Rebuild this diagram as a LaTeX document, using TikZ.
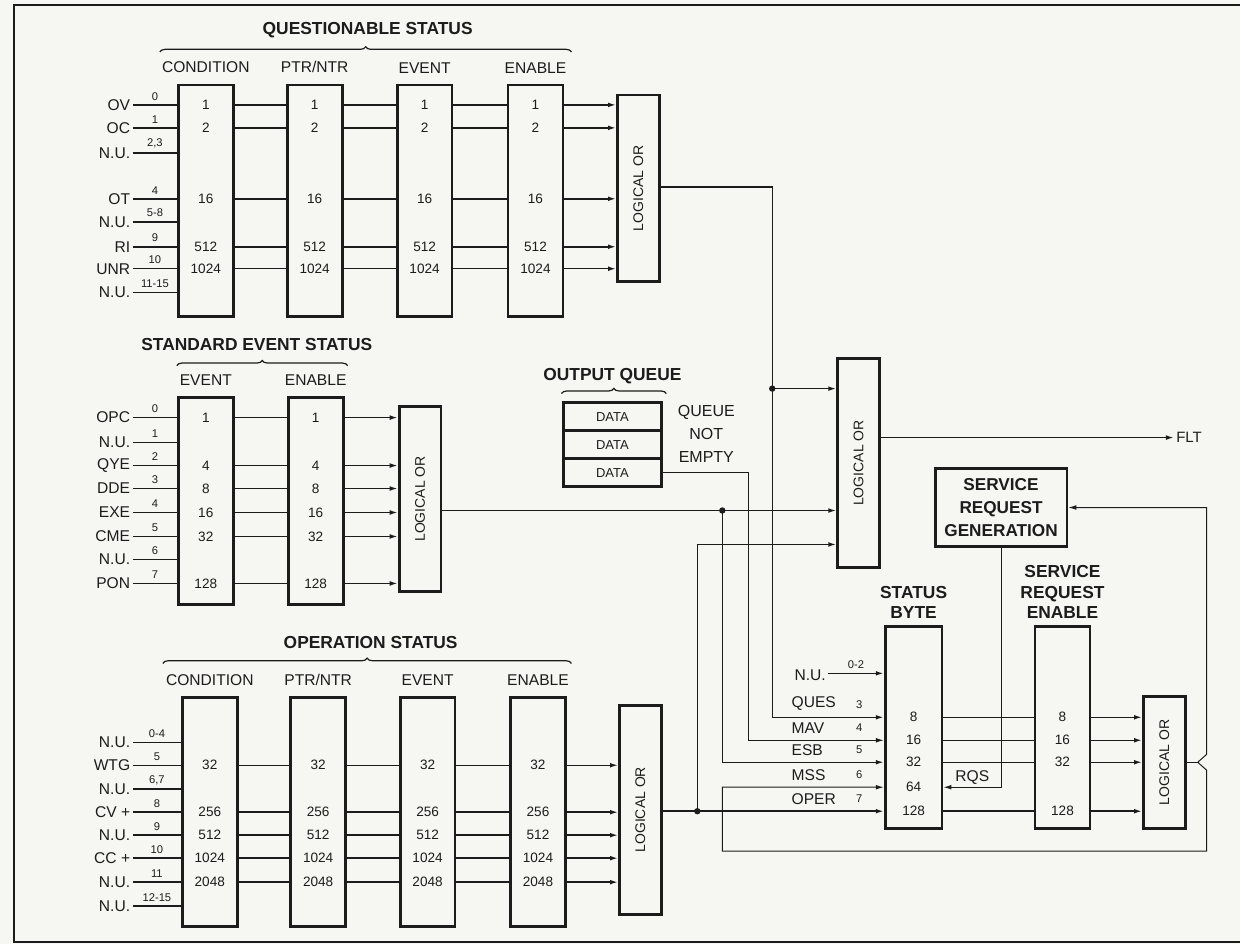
\documentclass[tikz,border=0pt]{standalone}
\usepackage{graphicx}
\usepackage{fontspec}
\setmainfont{Liberation Sans}
\usetikzlibrary{arrows.meta,positioning,decorations.pathreplacing}
\definecolor{paper}{RGB}{246,246,243}
\definecolor{ink}{RGB}{28,28,28}

\begin{document}
\begin{tikzpicture}[
  x=0.5pt, y=-0.5pt,
  font=\fontsize{7.8}{9}\selectfont,
  color=ink,
  >={Latex[length=4pt,width=2.4pt]},
  reg/.style={draw, line width=1.4pt, minimum width=27.5pt, inner sep=0pt},
  orbox/.style={reg, minimum width=21pt, font=\fontsize{7}{8}\selectfont},
  title/.style={inner sep=1pt, align=center, font=\bfseries\fontsize{8.7}{10.3}\selectfont},
  head/.style={inner sep=1pt},
  inlbl/.style={inner sep=1pt},
  val/.style={inner sep=0pt, font=\fontsize{6.8}{8}\selectfont},
  bitno/.style={inner sep=2pt, font=\fontsize{5.6}{6}\selectfont},
  dataq/.style={draw, line width=1.4pt, outer sep=0pt, minimum width=49pt, minimum height=14pt,
    inner sep=0pt, font=\fontsize{6.5}{7}\selectfont},
  wire/.style={line width=0.75pt},
  thinwire/.style={line width=0.5pt},
  tap/.style={circle, fill, inner sep=0pt, minimum size=3.2pt},
  grp/.style={decorate, decoration={brace, amplitude=2.6pt}, line width=0.6pt}
]
\fill[paper] (0,0) rectangle (1241,945);
\draw[line width=1.2pt] (1241,5) -- (14,5) -- (14,943) -- (1241,943);

% questionable status register group
\node[title] (qtitle) at (368,30) {QUESTIONABLE STATUS};
\draw[grp] (160,52) -- (572,52);
\node[reg, minimum height=116pt] (qcond) at (206,201) {};
\node[reg, minimum height=116pt] (qptr) at (315,201) {};
\node[reg, minimum height=116pt] (qevt) at (425,201) {};
\node[reg, minimum height=116pt] (qena) at (536,201) {};
\node[orbox, minimum height=93.5pt] (qor) at (639,188.5) {\rotatebox{90}{LOGICAL OR}};
\node[head, above=4pt of qcond] (qhc) {CONDITION};
\node[head, above=4pt of qptr] (qhp) {PTR/NTR};
\node[head, above=4pt of qevt] (qhe) {EVENT};
\node[head, above=4pt of qena] (qhn) {ENABLE};
\foreach \y/\lab/\bit [count=\i] in {105/OV/0, 128/OC/1, 153/N.U./{2,3}, 199/OT/4,
    222/N.U./5-8, 247/RI/9, 269/UNR/10, 293/N.U./11-15}
  \draw[wire] (133,\y) node[inlbl, anchor=east] (qin\i) {\lab}
    -- node[bitno, above] (qbit\i) {\bit} (qcond.west |- 0,\y);
\foreach \y/\v in {105/1, 128/2, 199/16, 247/512, 269/1024} {
  \node[val] (qcv\v) at (qcond |- 0,\y) {\v};
  \node[val] (qpv\v) at (qptr |- 0,\y) {\v};
  \node[val] (qev\v) at (qevt |- 0,\y) {\v};
  \node[val] (qnv\v) at (qena |- 0,\y) {\v};
  \draw[wire] (qcond.east |- qcv\v) -- (qptr.west |- qcv\v);
  \draw[wire] (qptr.east |- qcv\v) -- (qevt.west |- qcv\v);
  \draw[wire] (qevt.east |- qcv\v) -- (qena.west |- qcv\v);
  \draw[wire,->] (qena.east |- qcv\v) -- (qor.west |- qcv\v);
}

% standard event status register group
\node[title] (stitle) at (257,345) {STANDARD EVENT STATUS};
\draw[grp] (177,366) -- (348,366);
\node[reg, minimum height=103.5pt] (sevt) at (206,501.5) {};
\node[reg, minimum height=103.5pt] (sena) at (316,501.5) {};
\node[orbox, minimum height=92.5pt] (sor) at (420.5,499.5) {\rotatebox{90}{LOGICAL OR}};
\node[head, above=4pt of sevt] (she) {EVENT};
\node[head, above=4pt of sena] (shn) {ENABLE};
\foreach \y/\lab/\bit [count=\i] in {418/OPC/0, 443/N.U./1, 466/QYE/2, 489/DDE/3,
    513/EXE/4, 537/CME/5, 560/N.U./6, 584/PON/7}
  \draw[wire] (133,\y) node[inlbl, anchor=east] (sin\i) {\lab}
    -- node[bitno, above] (sbit\i) {\bit} (sevt.west |- 0,\y);
\foreach \y/\v in {418/1, 466/4, 489/8, 513/16, 537/32, 584/128} {
  \node[val] (sev\v) at (sevt |- 0,\y) {\v};
  \node[val] (snv\v) at (sena |- 0,\y) {\v};
  \draw[wire] (sevt.east |- sev\v) -- (sena.west |- sev\v);
  \draw[wire,->] (sena.east |- sev\v) -- (sor.west |- sev\v);
}

% operation status register group
\node[title] (otitle) at (371,643) {OPERATION STATUS};
\draw[grp] (163,664) -- (572,664);
\node[reg, minimum height=114.5pt] (ocond) at (210,812.5) {};
\node[reg, minimum height=114.5pt] (optr) at (318.5,812.5) {};
\node[reg, minimum height=114.5pt] (oevt) at (428,812.5) {};
\node[reg, minimum height=114.5pt] (oena) at (538.5,812.5) {};
\node[orbox, minimum height=104.5pt] (oor) at (641,810.5) {\rotatebox{90}{LOGICAL OR}};
\node[head, above=4pt of ocond] (ohc) {CONDITION};
\node[head, above=4pt of optr] (ohp) {PTR/NTR};
\node[head, above=4pt of oevt] (ohe) {EVENT};
\node[head, above=4pt of oena] (ohn) {ENABLE};
\foreach \y/\lab/\bit [count=\i] in {743/N.U./0-4, 766/WTG/5, 790/N.U./{6,7}, 813/CV +/8,
    836/N.U./9, 859/CC +/10, 883/N.U./11, 907/N.U./12-15}
  \draw[wire] (133,\y) node[inlbl, anchor=east] (oin\i) {\lab}
    -- node[bitno, above] (obit\i) {\bit} (ocond.west |- 0,\y);
\foreach \y/\v in {766/32, 813/256, 836/512, 859/1024, 883/2048} {
  \node[val] (ocv\v) at (ocond |- 0,\y) {\v};
  \node[val] (opv\v) at (optr |- 0,\y) {\v};
  \node[val] (oev\v) at (oevt |- 0,\y) {\v};
  \node[val] (onv\v) at (oena |- 0,\y) {\v};
  \draw[wire] (ocond.east |- ocv\v) -- (optr.west |- ocv\v);
  \draw[wire] (optr.east |- ocv\v) -- (oevt.west |- ocv\v);
  \draw[wire] (oevt.east |- ocv\v) -- (oena.west |- ocv\v);
  \draw[wire,->] (oena.east |- ocv\v) -- (oor.west |- ocv\v);
}

% output queue
\node[title] (oqt) at (613,377) {OUTPUT QUEUE};
\draw[grp] (562,394) -- (667,394);
\node[dataq] (dq1) at (613,417) {DATA};
\node[dataq, below=0pt of dq1] (dq2) {DATA};
\node[dataq, below=0pt of dq2] (dq3) {DATA};
\node[align=center, inner sep=0pt, font=\fontsize{8}{11.5}\selectfont] (qne) at (707,434) {QUEUE\\NOT\\EMPTY};

% summary, status byte and service request
\node[orbox, minimum height=104.5pt] (fltor) at (859.5,463.5) {\rotatebox{90}{LOGICAL OR}};
\node[inlbl, anchor=west, font=\fontsize{7.5}{9}\selectfont] (flt) at (1175,438) {FLT};
\draw[wire,->] (fltor.east |- flt) -- (flt.west);
\node[reg, minimum width=66pt, minimum height=39pt, align=center,
      font=\bfseries\fontsize{8.6}{11.7}\selectfont] (srg) at (1002,508) {SERVICE\\REQUEST\\GENERATION};
\node[reg, minimum width=28.5pt, minimum height=101pt] (sb) at (914.5,728) {};
\node[reg, minimum width=27.5pt, minimum height=101pt] (sre) at (1063.5,728) {};
\node[orbox, minimum height=66pt] (sror) at (1165.5,763) {\rotatebox{90}{LOGICAL OR}};
\node[title, above=2pt of sb] (sbt) {STATUS\\BYTE};
\node[title, above=2pt of sre] (sret) {SERVICE\\REQUEST\\ENABLE};
\foreach \y/\lab/\bit/\v in {718/QUES/3/8, 741/MAV/4/16, 763/ESB/5/32, 788/MSS/6/64, 812/OPER/7/128} {
  \node[inlbl, anchor=south west] (sbl\bit) at (790,\y-4) {\lab};
  \node[bitno, anchor=south] (sbb\bit) at (860,\y-4) {\bit};
  \node[val] (sbv\v) at (sb |- 0,\y) {\v};
}
\node[inlbl, anchor=east] (sbl0) at (829,676) {N.U.};
\draw[wire,->] (sbl0.east |- 0,674) -- node[bitno, above] (sbb0) {0-2} (sb.west |- 0,674);
\foreach \v in {8,16,32,128} {
  \node[val] (srev\v) at (sre |- sbv\v) {\v};
  \draw[wire] (sb.east |- sbv\v) -- (sre.west |- sbv\v);
  \draw[wire,->] (sre.east |- sbv\v) -- (sror.west |- sbv\v);
}
\draw[thinwire,->] (srg.south) |- node[inlbl, above, pos=0.75] (rqs) {RQS} (sb.east |- sbv64);
\draw[thinwire] (sror.east) -- ++(11,0) coordinate (notch);
\draw[thinwire,->] (notch) -- ++(9,-8) |- (srg.east);
\coordinate (mssk) at (723,852);
\draw[thinwire,->] (notch) -- ++(9,8) |- (mssk) |- (sb.west |- sbv64);

% buses
\node[tap] (qtap) at (773,389) {};
\draw[wire,->] (qor.east |- 0,187) -| (qtap.center) |- (sb.west |- sbv8);
\draw[wire,->] (qtap.center) -- (fltor.west |- qtap);
\node[tap] (stap) at (723,511) {};
\draw[wire,->] (sor.east |- stap) -- (fltor.west |- stap);
\draw[wire,->] (stap.center) |- (sb.west |- sbv32);
\node[tap] (otap) at (698,812) {};
\draw[wire,->] (oor.east |- otap) -- (sb.west |- otap);
\draw[wire,->] (otap.center) |- (fltor.west |- 0,545);
\coordinate (qnbus) at (749,0);
\draw[thinwire,->] (dq3.east) -- (dq3.east -| qnbus) |- (sb.west |- sbv16);
\end{tikzpicture}
\end{document}
